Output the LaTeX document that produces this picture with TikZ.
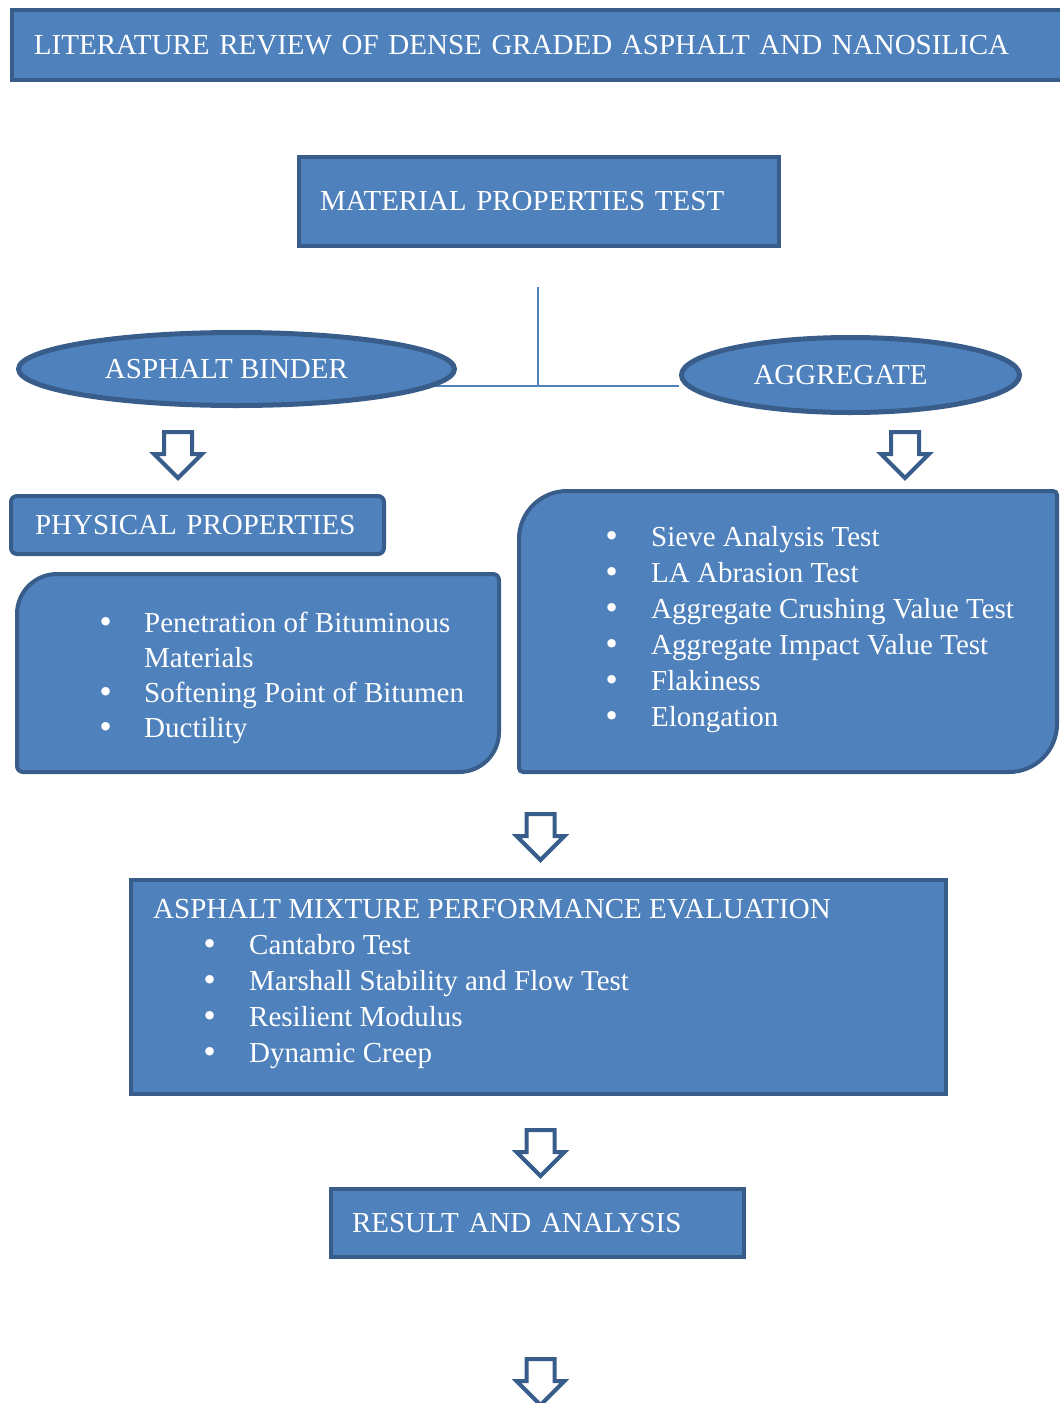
\documentclass[tikz,border=0pt]{standalone}
\usepackage{fontspec}
\setmainfont{Liberation Serif}
\newfontfamily\bulfont{DejaVu Sans}
\usetikzlibrary{shapes.geometric}
\definecolor{fillblue}{HTML}{4F81BD}
\definecolor{edgeblue}{HTML}{385D8A}
\newcommand\mybul[1]{\makebox[#1][l]{\hspace*{-1pt}{\bulfont •}}}
\begin{document}
\begin{tikzpicture}[x=1pt,y=-1pt,
  boxst/.style={draw=edgeblue, fill=fillblue, line width=4pt, text=white,
    font=\fontsize{29}{36}\selectfont, inner ysep=0pt, align=left, rectangle},
  ellst/.style={draw=edgeblue, fill=fillblue, line width=5pt, text=white,
    font=\fontsize{29}{36}\selectfont, ellipse, inner sep=0pt},
  shapest/.style={draw=edgeblue, fill=fillblue, line width=4pt},
  listst/.style={text=white, inner sep=0pt, anchor=base west, align=left},
  linkst/.style={draw=fillblue, line width=2pt},
  blockarrow/.style={draw=edgeblue, fill=white, line width=4pt, line join=miter}
]
\clip (0,0) rectangle (1060,1403);
\useasboundingbox (0,0) rectangle (1060,1403);

% top box
\node[boxst, anchor=west, minimum height=70pt, text width=1036pt, inner xsep=22pt] (lit) at (10,45)
  {\mbox{LITERATURE REVIEW OF DENSE GRADED ASPHALT AND NANOSILICA}};

% material properties
\node[boxst, minimum height=89pt, text width=438pt, inner xsep=21pt] (mat) at (539,201.5)
  {\mbox{MATERIAL PROPERTIES TEST}};

% connectors
\coordinate (jT) at (538,287);
\coordinate (jC) at (538,386);
\coordinate (jL) at (432,386);
\coordinate (jR) at (679,386);
\draw[linkst] (jT) -- (jC);
\draw[linkst] (jL) -- (jR);

% ellipses
\node[ellst, minimum width=436pt, minimum height=73pt] (asph) at (236.5,369)
  {ASPHALT BINDER\kern20pt};
\node[ellst, minimum width=338pt, minimum height=75pt] (agg) at (850.5,375)
  {AGGREGATE\kern20pt};

% block arrows
\foreach \n/\cx/\cy in {arA/178/432, arB/905/432, arC/540.5/814, arD/540.5/1130, arE/540.5/1359}{
  \coordinate (\n) at (\cx,\cy);
  \draw[blockarrow] (\n) ++(-14,0) -- ++(28,0) -- ++(0,22) -- ++(10,0) -- ++(-24,24)
     -- ++(-24,-24) -- ++(10,0) -- cycle;
}

% physical properties
\node[boxst, rounded corners=6pt, minimum height=58pt, text width=325pt, inner xsep=24pt] (phys) at (197.5,525)
  {\mbox{PHYSICAL PROPERTIES}};

% left rounded box
\def\xa{17}\def\ya{574}\def\xb{499}\def\yb{772}\def\R{40}\def\r{6}
\draw[shapest] (\xa,\yb-\r) -- (\xa,\ya+\R) arc[start angle=180,end angle=270,radius=\R]
  -- (\xb-\r,\ya) arc[start angle=270,end angle=360,radius=\r]
  -- (\xb,\yb-\R) arc[start angle=0,end angle=90,radius=\R]
  -- (\xa+\r,\yb) arc[start angle=90,end angle=180,radius=\r] -- cycle;
\node[listst, font=\fontsize{29}{35}\selectfont] (binlist) at (98,632)
  {\begin{tabular}[t]{@{}l@{}}
   \mybul{46pt}Penetration of Bituminous\\
   \makebox[46pt][l]{}Materials\\
   \mybul{46pt}Softening Point of Bitumen\\
   \mybul{46pt}Ductility
   \end{tabular}};

% right rounded box
\def\xa{519}\def\ya{491}\def\xb{1057}\def\yb{772}\def\R{48}\def\r{4}
\draw[shapest] (\xa,\yb-\r) -- (\xa,\ya+\R) arc[start angle=180,end angle=270,radius=\R]
  -- (\xb-\r,\ya) arc[start angle=270,end angle=360,radius=\r]
  -- (\xb,\yb-\R) arc[start angle=0,end angle=90,radius=\R]
  -- (\xa+\r,\yb) arc[start angle=90,end angle=180,radius=\r] -- cycle;
\node[listst, font=\fontsize{29}{36}\selectfont] (agglist) at (604,546)
  {\begin{tabular}[t]{@{}l@{}}
   \mybul{47pt}Sieve Analysis Test\\
   \mybul{47pt}LA Abrasion Test\\
   \mybul{47pt}Aggregate Crushing Value Test\\
   \mybul{47pt}Aggregate Impact Value Test\\
   \mybul{47pt}Flakiness\\
   \mybul{47pt}Elongation
   \end{tabular}};

% mixture evaluation
\node[boxst, minimum width=815pt, minimum height=214pt] (mix) at (538.5,987) {};
\node[listst, font=\fontsize{29}{36}\selectfont] (mixlist) at (153,918)
  {\begin{tabular}[t]{@{}l@{}}
   ASPHALT MIXTURE PERFORMANCE EVALUATION\\
   \hspace{49pt}\mybul{47pt}Cantabro Test\\
   \hspace{49pt}\mybul{47pt}Marshall Stability and Flow Test\\
   \hspace{49pt}\mybul{47pt}Resilient Modulus\\
   \hspace{49pt}\mybul{47pt}Dynamic Creep
   \end{tabular}};

% result
\node[boxst, minimum height=68pt, text width=371pt, inner xsep=21pt] (res) at (537.5,1223)
  {\mbox{RESULT AND ANALYSIS}};
\end{tikzpicture}
\end{document}
